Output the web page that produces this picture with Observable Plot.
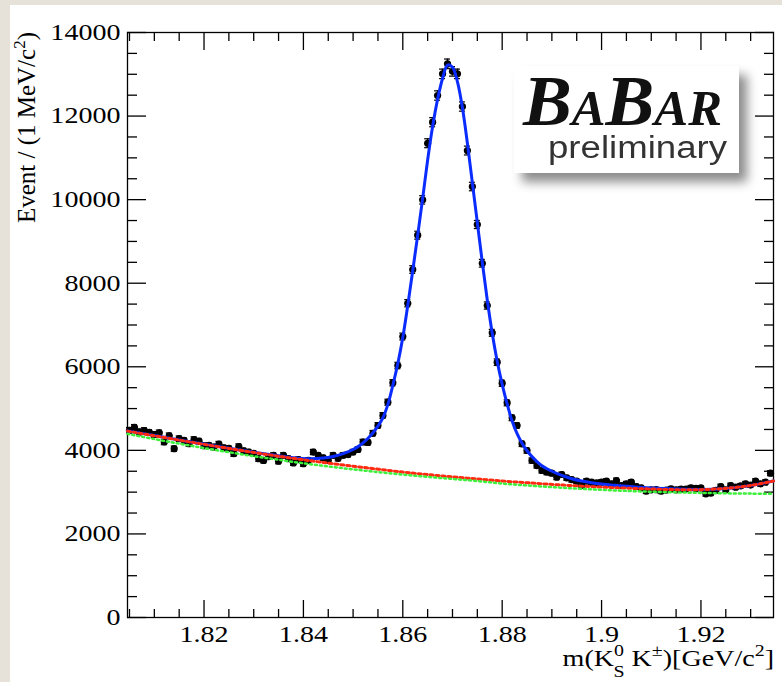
<!DOCTYPE html>
<html>
<head>
<meta charset="utf-8">
<script src="https://cdn.jsdelivr.net/npm/d3@7"></script>
<script src="https://cdn.jsdelivr.net/npm/@observablehq/plot@0.6"></script>
<style>
  html, body { margin: 0; padding: 0; width: 782px; height: 682px; overflow: hidden; background: #e6e2da; }
  #panel { position: absolute; left: 10px; top: 5px; width: 772px; height: 677px; background: #ffffff; }
  #chart { position: absolute; left: 0; top: 0; }
  #logo { position: absolute; left: 514px; top: 66px; width: 225px; height: 107px; background: #ffffff;
          box-shadow: 8px 9px 10px rgba(0,0,0,0.45); }
  #logo svg { display: block; overflow: visible; filter: blur(0.5px); }
</style>
</head>
<body>
<div id="panel"></div>
<div id="chart"></div>
<div id="logo">
  <svg width="225" height="107">
    <text x="9" y="59" font-family="Liberation Serif" font-style="italic" font-weight="bold" fill="#111" textLength="199" lengthAdjust="spacingAndGlyphs"><tspan font-size="72">B</tspan><tspan font-size="50">A</tspan><tspan font-size="72">B</tspan><tspan font-size="50">AR</tspan></text>
    <text x="34" y="92" font-family="Liberation Sans" font-size="31" fill="#333" textLength="179" lengthAdjust="spacingAndGlyphs">preliminary</text>
  </svg>
</div>
<script>
// ---- histogram: 1 MeV bins ----
const binStart = 1.805;   // GeV, centre of first bin
const binWidth = 0.001;   // GeV
const counts = [
  4480,4550,4440,4475,4430,4380,4420,4200,4350,4040,
  4280,4240,4160,4260,4220,4110,4120,4080,4150,4060,
  4050,3920,4090,3990,3960,3930,3800,3760,3850,3880,
  3740,3880,3800,3700,3780,3680,3760,3960,3880,3820,
  3760,3880,3810,3880,3900,3960,4020,4200,4190,4410,
  4595,4834,5152,5616,6030,6724,7521,8328,9149,9995,
  11350,11853,12492,13010,13250,13070,13010,12228,11175,10314,
  9405,8478,7466,6813,6110,5607,5138,4779,4595,4157,
  3996,3757,3637,3518,3477,3453,3357,3422,3343,3300,
  3263,3159,3263,3238,3220,3238,3263,3200,3279,3159,
  3200,3238,3135,3104,3022,3056,3060,3022,3050,3080,
  3056,3070,3075,3104,3090,3100,2960,2976,3040,3135,
  3056,3159,3120,3150,3200,3170,3263,3200,3238,3453
];

// ---- total fit (blue) ----
const fitX = [1.8046,1.810,1.815,1.820,1.825,1.830,1.835,1.838,1.841,1.844,
  1.846,1.848,1.850,1.851,1.852,1.853,1.854,1.855,1.856,1.857,
  1.858,1.859,1.860,1.861,1.862,1.863,1.864,1.865,1.866,1.867,
  1.868,1.869,1.870,1.871,1.872,1.873,1.874,1.875,1.876,1.877,
  1.878,1.879,1.880,1.881,1.882,1.883,1.884,1.885,1.886,1.887,
  1.888,1.889,1.890,1.892,1.894,1.896,1.898,1.900,1.905,1.910,
  1.915,1.920,1.925,1.930,1.9346];
const fitY = [4465,4355,4250,4150,4050,3955,3870,3825,3800,3815,
  3855,3920,4020,4090,4180,4290,4420,4580,4780,5100,
  5560,6080,6700,7470,8300,9150,10030,10950,11750,12400,
  12900,13220,13170,12820,12200,11350,10400,9450,8500,7600,
  6800,6130,5580,5110,4700,4400,4170,3990,3850,3730,
  3630,3560,3500,3400,3320,3265,3225,3195,3140,3100,
  3075,3065,3090,3160,3265];

// ---- background components ----
const bgX = [1.8046,1.810,1.815,1.820,1.825,1.830,1.835,1.840,1.845,1.850,
  1.855,1.860,1.865,1.870,1.875,1.880,1.885,1.890,1.895,1.900,
  1.905,1.910,1.915,1.920,1.925,1.930,1.9346];
const bgRed = [4460,4350,4245,4145,4045,3950,3860,3775,3695,3620,
  3550,3480,3420,3365,3315,3265,3225,3185,3150,3120,
  3095,3075,3060,3060,3090,3160,3265];
const bgGreen = [4395,4270,4160,4055,3955,3860,3775,3690,3615,3545,
  3480,3420,3365,3315,3265,3205,3160,3120,3085,3055,
  3030,3010,2995,2982,2972,2965,2960];

// ---- axes ----
const xDomain = [1.8046, 1.9346];
const yDomain = [0, 14000];
const xMajorTicks = [1.82, 1.84, 1.86, 1.88, 1.90, 1.92];
const xMinorTicks = [1.805,1.81,1.815,1.825,1.83,1.835,1.845,1.85,1.855,1.865,1.87,1.875,
                     1.885,1.89,1.895,1.905,1.91,1.915,1.925,1.93];
const yMajorTicks = [0, 2000, 4000, 6000, 8000, 10000, 12000, 14000];
const yMinorTicks = [500,1000,1500,2500,3000,3500,4500,5000,5500,6500,7000,7500,
                     8500,9000,9500,10500,11000,11500,12500,13000,13500];

const points = counts.map((n, i) => ({x: binStart + i * binWidth, y: n, e: Math.sqrt(n)}));
const fit = fitX.map((x, i) => ({x, y: fitY[i]}));
const bg = bgX.map((x, i) => ({x, r: bgRed[i], g: bgGreen[i]}));

const fmtX = d => String(+d.toFixed(2));
const tickAxis = (k, anchor, ticks, size) =>
  (k === "x" ? Plot.axisX : Plot.axisY)(ticks, {anchor, tickSize: -size, fill: "none", label: null, stroke: "black", strokeWidth: 1.3});

const svg = Plot.plot({
  width: 782,
  height: 682,
  marginLeft: 127,
  marginRight: 9,
  marginTop: 32,
  marginBottom: 65,
  x: {domain: xDomain},
  y: {domain: yDomain},
  style: {background: "transparent", fontFamily: "Liberation Serif", fontSize: "23px", color: "black", overflow: "visible"},
  marks: [
    tickAxis("x", "bottom", xMajorTicks, 17),
    tickAxis("x", "bottom", xMinorTicks, 8),
    tickAxis("x", "top", xMajorTicks, 17),
    tickAxis("x", "top", xMinorTicks, 8),
    tickAxis("y", "left", yMajorTicks, 19),
    tickAxis("y", "left", yMinorTicks, 10),
    tickAxis("y", "right", yMajorTicks, 19),
    tickAxis("y", "right", yMinorTicks, 10),
    Plot.axisX(xMajorTicks, {anchor: "bottom", tickSize: 0, tickPadding: 8, tickFormat: fmtX, label: null, fill: "black"}),
    Plot.axisY(yMajorTicks, {anchor: "left", tickSize: 0, tickPadding: 7, tickFormat: d => String(d), label: null, fill: "black"}),
    Plot.frame({stroke: "black", strokeWidth: 1.3}),
    Plot.ruleX(points, {x: "x", y1: d => d.y - d.e, y2: d => d.y + d.e, stroke: "black", strokeWidth: 1.5}),
    Plot.ruleY(points, {y: d => d.y + d.e, x1: "x", x2: "x", insetLeft: -3, insetRight: -3, stroke: "black", strokeWidth: 1.2}),
    Plot.ruleY(points, {y: d => d.y - d.e, x1: "x", x2: "x", insetLeft: -3, insetRight: -3, stroke: "black", strokeWidth: 1.2}),
    Plot.dot(points, {x: "x", y: "y", r: 3.6, fill: "black", stroke: "none"}),
    Plot.line(fit, {x: "x", y: "y", stroke: "#0a2cff", strokeWidth: 3, curve: "catmull-rom"}),
    Plot.line(bg, {x: "x", y: "r", stroke: "#ff2a10", strokeWidth: 3, strokeDasharray: "3,3", curve: "catmull-rom"}),
    Plot.line(bg, {x: "x", y: "g", stroke: "#3cf03c", strokeWidth: 2.5, strokeDasharray: "2,3", curve: "catmull-rom"})
  ]
});
document.getElementById("chart").appendChild(svg);

// widen tick labels horizontally, as in the original rendering
const stretch = 1.22;
svg.querySelectorAll('g[aria-label="x-axis tick label"] text, g[aria-label="y-axis tick label"] text').forEach(t => {
  const len = t.getComputedTextLength();
  if (len > 0) {
    t.setAttribute("textLength", (len * stretch).toFixed(2));
    t.setAttribute("lengthAdjust", "spacingAndGlyphs");
  }
});

// axis titles with sub/superscripts
const s = d3.select(svg);
const yt = s.append("text")
  .attr("transform", "translate(35,32) rotate(-90)")
  .attr("text-anchor", "end")
  .attr("font-family", "Liberation Serif")
  .attr("font-size", 25)
  .attr("fill", "black");
yt.append("tspan").text("Event / (1 MeV/c");
yt.append("tspan").attr("font-size", 17).attr("dy", -10).text("2");
yt.append("tspan").attr("dy", 10).text(")");

const xt = s.append("g").attr("transform", "translate(774,666) scale(1.17,1)");
const xtext = xt.append("text")
  .attr("text-anchor", "end")
  .attr("font-family", "Liberation Serif")
  .attr("font-size", 24)
  .attr("fill", "black");
xtext.append("tspan").text("m(K");
xtext.append("tspan").attr("font-size", 17).attr("dy", -10).text("0");
xtext.append("tspan").attr("font-size", 17).attr("dx", -9).attr("dy", 21).text("S");
xtext.append("tspan").attr("dy", -11).text(" K");
xtext.append("tspan").attr("font-size", 17).attr("dy", -10).text("\u00B1");
xtext.append("tspan").attr("dy", 10).text(")[GeV/c");
xtext.append("tspan").attr("font-size", 17).attr("dy", -10).text("2");
xtext.append("tspan").attr("dy", 10).text("]");
</script>
</body>
</html>
